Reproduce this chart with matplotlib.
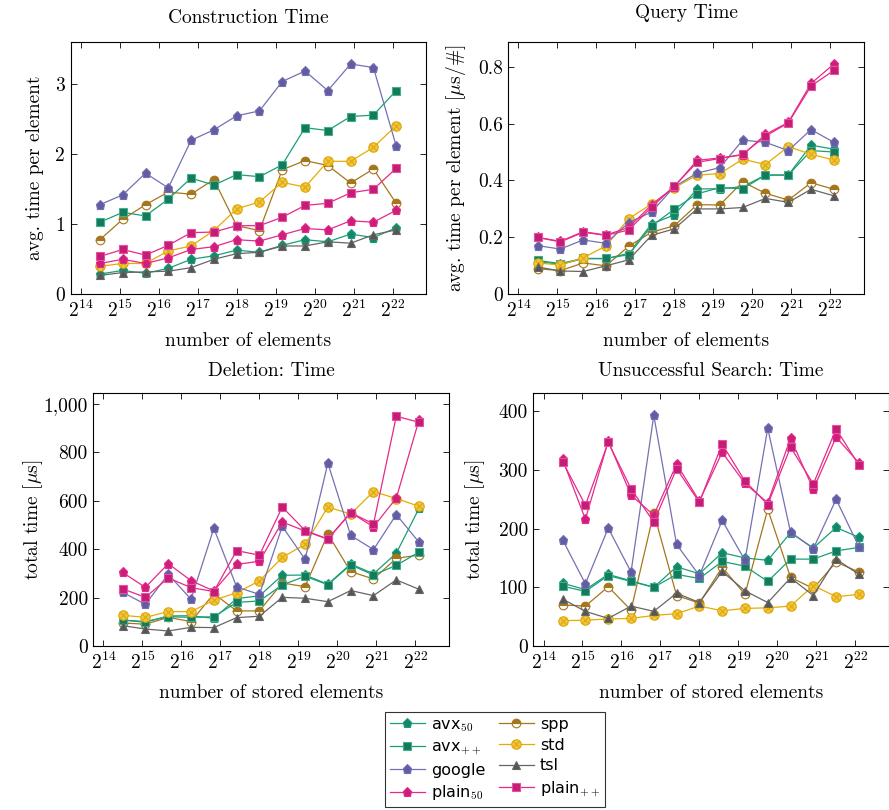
import matplotlib
matplotlib.use("Agg")
import matplotlib.pyplot as plt
import numpy as np
from matplotlib.path import Path
from matplotlib.ticker import FixedLocator, NullLocator, FuncFormatter

plt.rcParams["font.family"] = ["cmr10", "DejaVu Serif"]
plt.rcParams["mathtext.fontset"] = "cm"
plt.rcParams["axes.formatter.use_mathtext"] = True
plt.rcParams["axes.unicode_minus"] = False

# number of elements per run (x axis, log2 scale)
sizes = [23000, 34500, 51800, 77700, 116500, 174800, 262100, 393200,
         589800, 884700, 1327000, 1990700, 2986000, 4479000]

# construction time, avg. time per element
con_avx50 = [0.29, 0.34, 0.30, 0.37, 0.50, 0.55, 0.63, 0.60, 0.70, 0.78, 0.75, 0.86, 0.81, 0.95]
con_avxpp = [1.03, 1.17, 1.12, 1.36, 1.66, 1.56, 1.71, 1.68, 1.85, 2.38, 2.34, 2.54, 2.56, 2.91]
con_google = [1.28, 1.42, 1.73, 1.52, 2.20, 2.35, 2.55, 2.62, 3.04, 3.19, 2.91, 3.29, 3.24, 2.12]
con_plain50 = [0.44, 0.50, 0.44, 0.52, 0.64, 0.68, 0.78, 0.76, 0.85, 0.94, 0.92, 1.05, 1.03, 1.20]
con_plainpp = [0.54, 0.64, 0.56, 0.70, 0.88, 0.89, 0.98, 0.98, 1.10, 1.27, 1.30, 1.45, 1.50, 1.80]
con_spp = [0.78, 1.07, 1.28, 1.46, 1.43, 1.64, 0.98, 0.91, 1.78, 1.91, 1.84, 1.59, 1.79, 1.30]
con_std = [0.40, 0.44, 0.44, 0.62, 0.69, 0.91, 1.22, 1.32, 1.60, 1.53, 1.90, 1.90, 2.10, 2.41]
con_tsl = [0.27, 0.31, 0.32, 0.33, 0.38, 0.50, 0.58, 0.60, 0.69, 0.69, 0.75, 0.73, 0.85, 0.92]

# query time, avg. time per element [us/#]
qry_avx50 = [0.115, 0.105, 0.125, 0.125, 0.144, 0.247, 0.279, 0.370, 0.371, 0.378, 0.419, 0.419, 0.524, 0.510]
qry_avxpp = [0.119, 0.108, 0.126, 0.126, 0.139, 0.240, 0.299, 0.353, 0.375, 0.371, 0.419, 0.419, 0.505, 0.500]
qry_google = [0.171, 0.159, 0.191, 0.179, 0.252, 0.289, 0.378, 0.426, 0.445, 0.542, 0.534, 0.505, 0.579, 0.534]
qry_plain50 = [0.200, 0.186, 0.220, 0.208, 0.235, 0.314, 0.378, 0.471, 0.479, 0.490, 0.562, 0.604, 0.741, 0.809]
qry_plainpp = [0.200, 0.184, 0.218, 0.207, 0.226, 0.306, 0.380, 0.464, 0.477, 0.492, 0.556, 0.602, 0.732, 0.787]
qry_spp = [0.090, 0.083, 0.110, 0.100, 0.169, 0.218, 0.241, 0.315, 0.314, 0.395, 0.355, 0.331, 0.392, 0.369]
qry_std = [0.110, 0.103, 0.128, 0.170, 0.266, 0.317, 0.374, 0.419, 0.424, 0.475, 0.456, 0.519, 0.492, 0.472]
qry_tsl = [0.096, 0.082, 0.080, 0.100, 0.121, 0.207, 0.230, 0.300, 0.300, 0.305, 0.337, 0.323, 0.369, 0.346]

# deletion, total time [us]
del_avx50 = [107, 98, 124, 125, 114, 196, 207, 292, 293, 255, 339, 298, 383, 569]
del_avxpp = [107, 101, 121, 118, 121, 180, 186, 252, 288, 253, 335, 293, 333, 388]
del_google = [222, 172, 296, 193, 486, 244, 213, 494, 358, 755, 457, 398, 543, 428]
del_plain50 = [304, 242, 340, 270, 227, 337, 350, 512, 475, 441, 551, 492, 611, 935]
del_plainpp = [236, 201, 281, 241, 225, 394, 375, 574, 477, 442, 551, 504, 949, 924]
del_spp = [95, 90, 118, 101, 216, 145, 145, 260, 245, 463, 307, 277, 362, 376]
del_std = [127, 118, 142, 142, 189, 220, 269, 366, 420, 574, 545, 638, 609, 577]
del_tsl = [84, 70, 62, 77, 76, 117, 123, 201, 197, 183, 229, 208, 273, 234]

# unsuccessful search, total time [us]
uns_avx50 = [107, 96, 122, 111, 100, 135, 123, 159, 150, 146, 193, 167, 202, 185]
uns_avxpp = [102, 93, 120, 110, 100, 122, 115, 144, 136, 110, 148, 148, 162, 168]
uns_google = [181, 106, 201, 126, 393, 173, 120, 214, 146, 371, 194, 166, 250, 169]
uns_plain50 = [318, 216, 349, 257, 223, 310, 247, 330, 277, 244, 354, 267, 356, 312]
uns_plainpp = [314, 240, 347, 268, 211, 302, 245, 344, 281, 241, 339, 276, 370, 308]
uns_spp = [70, 68, 101, 61, 227, 86, 73, 134, 88, 233, 117, 98, 143, 126]
uns_std = [43, 44, 46, 47, 52, 55, 68, 60, 64, 65, 68, 103, 84, 88]
uns_tsl = [80, 59, 47, 68, 59, 90, 74, 127, 94, 74, 116, 86, 148, 122]

names = ["avx50", "spp", "avxpp", "std", "google", "tsl", "plain50", "plainpp"]
labels = {
    "avx50": r"avx$_{50}$", "avxpp": r"avx$_{++}$", "google": "google",
    "plain50": r"plain$_{50}$", "plainpp": r"plain$_{++}$",
    "spp": "spp", "std": "std", "tsl": "tsl",
}

# circle with a cross, like pgfplots "otimes*"
_circ = Path.unit_circle()
_d = 0.7071
_otimes = Path(
    np.concatenate([_circ.vertices, [[-_d, -_d], [_d, _d], [-_d, _d], [_d, -_d]]]),
    np.concatenate([_circ.codes, [Path.MOVETO, Path.LINETO, Path.MOVETO, Path.LINETO]]),
)

styles = {
    "avx50": dict(color="#1b9e77", marker="p", markersize=6.5, mfc="#16866a", mec="#1b9e77"),
    "avxpp": dict(color="#1b9e77", marker="s", markersize=6.2, mfc="#157a5c", mec="#3fb08c"),
    "google": dict(color="#7570b3", marker="p", markersize=6.5, mfc="#625da3", mec="#7570b3"),
    "plain50": dict(color="#e7298a", marker="p", markersize=6.5, mfc="#cc1f7c", mec="#e7298a"),
    "plainpp": dict(color="#e7298a", marker="s", markersize=6.2, mfc="#c21d77", mec="#ea4f9d"),
    "spp": dict(color="#a6761d", marker="o", markersize=6.2, fillstyle="top",
                mfc="#a6761d", mfcalt="white", mec="#a6761d"),
    "std": dict(color="#e6ab02", marker=_otimes, markersize=6.8, mfc="#efc54a", mec="#e0a800"),
    "tsl": dict(color="#666666", marker="^", markersize=6.2, mfc="#555555", mec="#666666"),
}

panels = [
    dict(title="Construction Time", ylabel="avg. time per element", xlabel="number of elements",
         ylim=3.61, yticks=[0, 1, 2, 3], title_pad=13.5, ylabel_pad=8,
         data={"avx50": con_avx50, "avxpp": con_avxpp, "google": con_google, "plain50": con_plain50,
               "plainpp": con_plainpp, "spp": con_spp, "std": con_std, "tsl": con_tsl},
         pos=[0.0795, 0.6367, 0.3997, 0.3119]),
    dict(title="Query Time", ylabel=r"avg. time per element [$\mu$s/#]", xlabel="number of elements",
         ylim=0.888, yticks=[0, 0.2, 0.4, 0.6, 0.8], title_pad=17, ylabel_pad=7,
         data={"avx50": qry_avx50, "avxpp": qry_avxpp, "google": qry_google, "plain50": qry_plain50,
               "plainpp": qry_plainpp, "spp": qry_spp, "std": qry_std, "tsl": qry_tsl},
         pos=[0.5718, 0.6367, 0.3997, 0.3119]),
    dict(title="Deletion: Time", ylabel=r"total time [$\mu$s]", xlabel="number of stored elements",
         ylim=1044, yticks=[0, 200, 400, 600, 800, 1000], title_pad=12.5, ylabel_pad=-1.5,
         data={"avx50": del_avx50, "avxpp": del_avxpp, "google": del_google, "plain50": del_plain50,
               "plainpp": del_plainpp, "spp": del_spp, "std": del_std, "tsl": del_tsl},
         pos=[0.105, 0.2025, 0.4, 0.312]),
    dict(title="Unsuccessful Search: Time", ylabel=r"total time [$\mu$s]", xlabel="number of stored elements",
         ylim=430.7, yticks=[0, 100, 200, 300, 400], title_pad=12.5, ylabel_pad=8,
         data={"avx50": uns_avx50, "avxpp": uns_avxpp, "google": uns_google, "plain50": uns_plain50,
               "plainpp": uns_plainpp, "spp": uns_spp, "std": uns_std, "tsl": uns_tsl},
         pos=[0.600, 0.2025, 0.3997, 0.312]),
]


def ytick_fmt(v, _pos):
    if v == 0:
        return "0"
    if float(v).is_integer():
        return f"{int(v):,}"
    return f"{v:g}"


fig = plt.figure(figsize=(8.89, 8.10), dpi=100)
handles = {}
for p in panels:
    ax = fig.add_axes(p["pos"])
    for name in names:
        line, = ax.plot(sizes, p["data"][name], linewidth=0.9, label=labels[name],
                        markeredgewidth=0.8, **styles[name])
        handles[name] = line
    ax.set_xscale("log", base=2)
    ax.set_xlim(2 ** 13.74, 2 ** 22.86)
    ax.set_ylim(0, p["ylim"])
    exps = list(range(14, 23))
    ax.xaxis.set_major_locator(FixedLocator([2 ** e for e in exps]))
    ax.xaxis.set_minor_locator(NullLocator())
    ax.set_xticklabels([rf"$2^{{{e}}}$" for e in exps])
    ax.yaxis.set_major_locator(FixedLocator(p["yticks"]))
    ax.yaxis.set_major_formatter(FuncFormatter(ytick_fmt))
    ax.tick_params(direction="in", top=True, right=True, length=4.5, width=0.6,
                   labelsize=14, pad=4)
    for s in ax.spines.values():
        s.set_linewidth(0.8)
    ax.set_title(p["title"], fontsize=14, pad=p["title_pad"], va="baseline")
    ax.set_xlabel(p["xlabel"], fontsize=14, labelpad=8)
    ax.set_ylabel(p["ylabel"], fontsize=14, labelpad=p["ylabel_pad"])

order = ["avx50", "avxpp", "google", "plain50", "spp", "std", "tsl", "plainpp"]
leg = fig.legend([handles[n] for n in order], [labels[n] for n in order],
                 loc="center", bbox_to_anchor=(0.557, 0.062), ncol=2,
                 prop={"family": "DejaVu Sans", "size": 11.5},
                 frameon=True, fancybox=False, edgecolor="black",
                 handlelength=2.2, handletextpad=0.4, columnspacing=0.8,
                 labelspacing=0.35, borderpad=0.3)
leg.get_frame().set_linewidth(0.8)

fig.savefig("out.png", dpi=100)
plt.close(fig)
